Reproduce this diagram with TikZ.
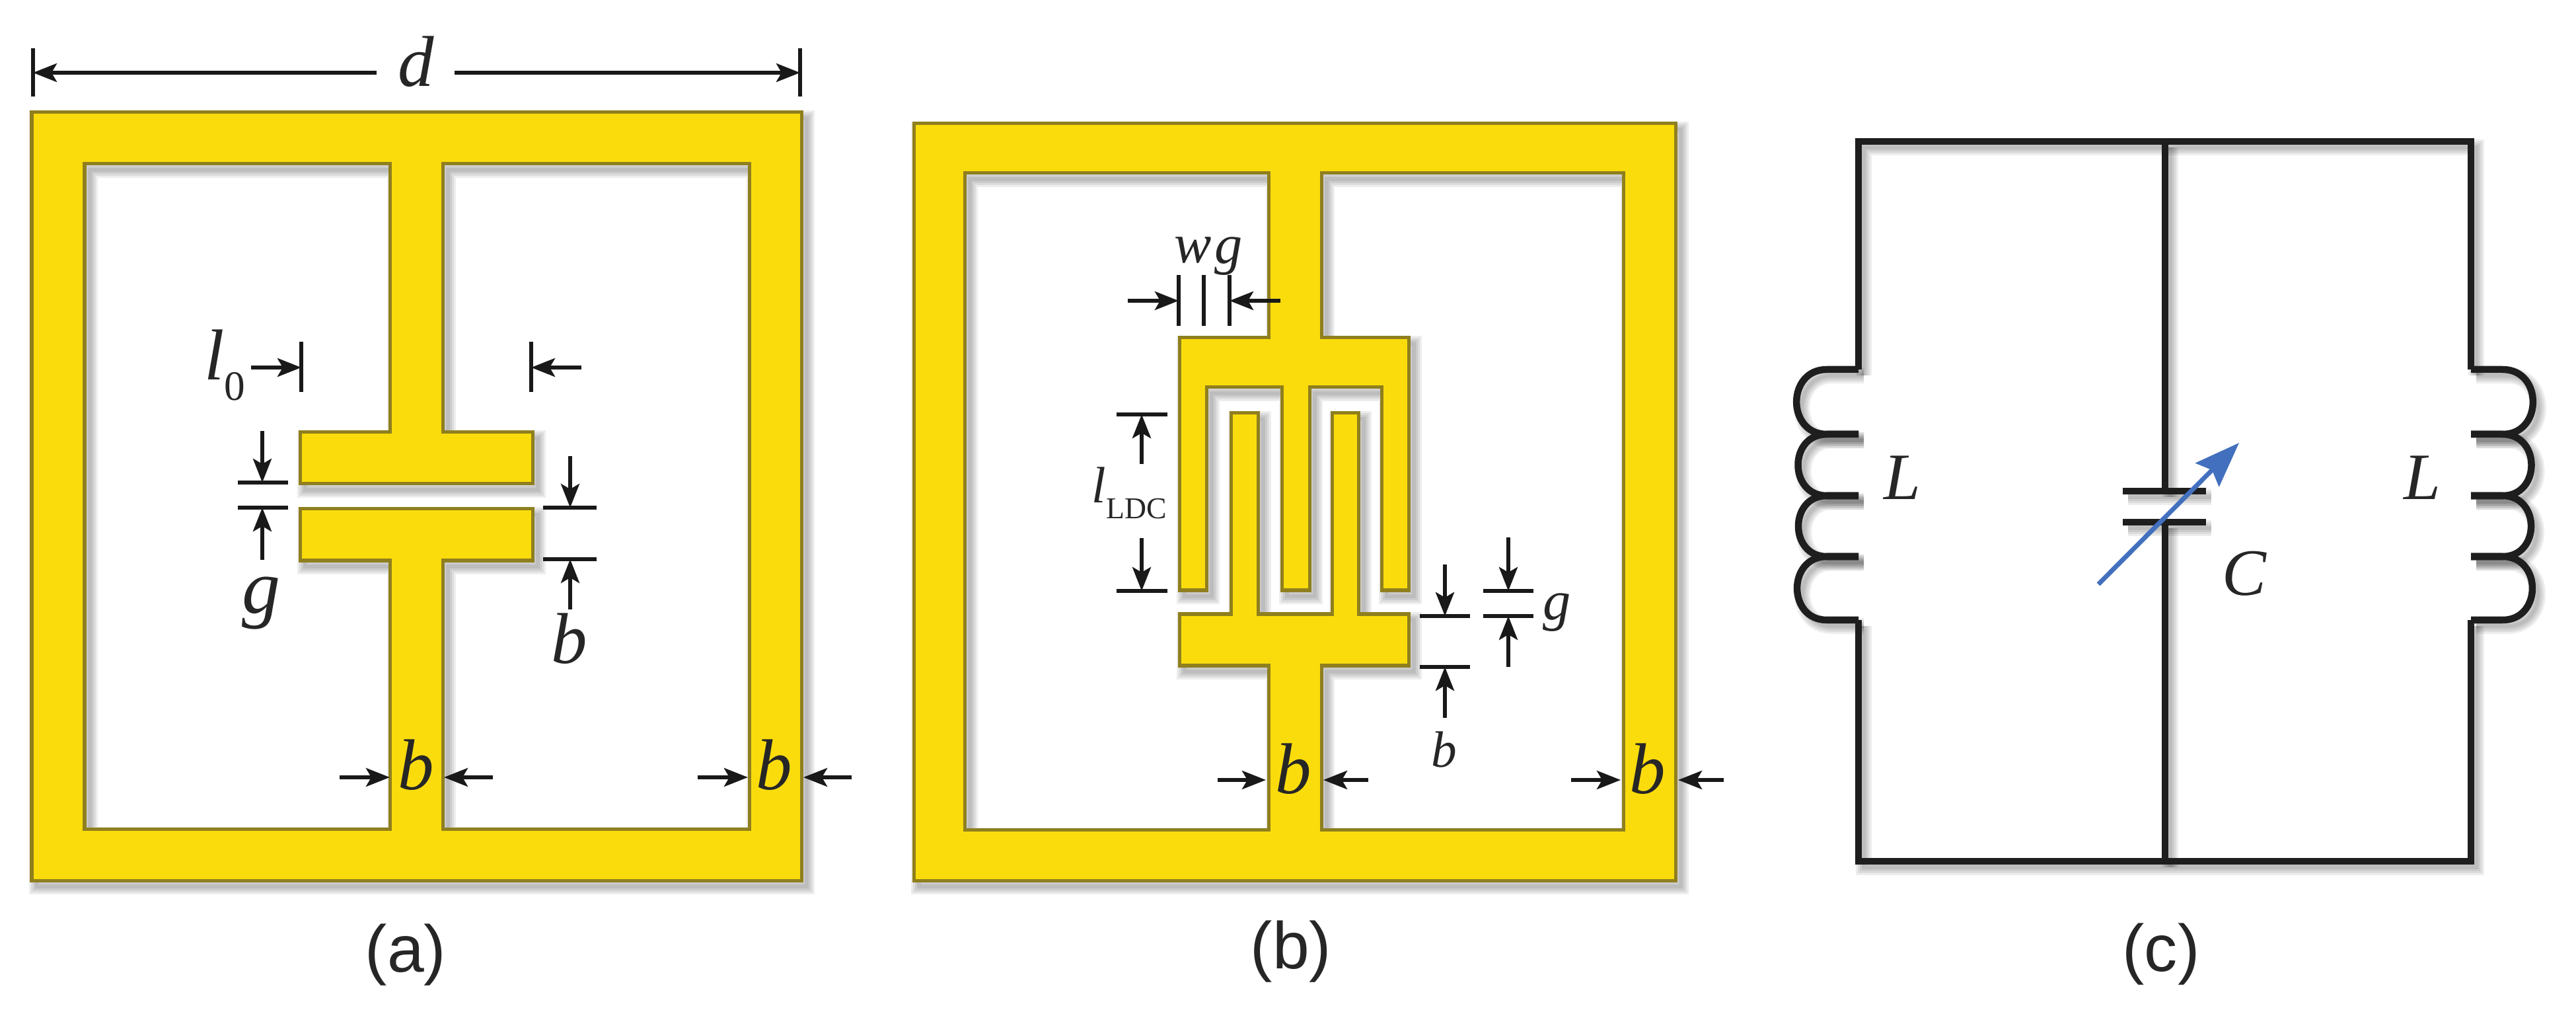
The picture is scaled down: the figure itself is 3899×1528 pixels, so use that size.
\documentclass[tikz,border=0pt]{standalone}
\usepackage{fontspec}
\setmainfont{Liberation Serif}
\newfontfamily\capfont{Liberation Sans}
\usetikzlibrary{arrows.meta}
\definecolor{gold}{HTML}{FADC0C}
\definecolor{goldedge}{HTML}{8F7F1E}
\definecolor{tunearrow}{HTML}{4270BE}
\definecolor{wirecol}{HTML}{1E1E1E}
\newcommand{\fs}[1]{\fontsize{#1}{#1}\selectfont}
\newcommand{\ringa}{(48,170) rectangle (1213,1332)
  (128,248) -- (590,248) -- (590,654) -- (454,654) -- (454,732) -- (806,732) -- (806,654) -- (670,654) -- (670,248)
  -- (1134,248) -- (1134,1254) -- (670,1254) -- (670,848) -- (806,848) -- (806,770) -- (454,770) -- (454,848)
  -- (590,848) -- (590,1254) -- (128,1254) -- cycle}
\newcommand{\ringb}{(1383,187) rectangle (2536,1332)
  (1460,262) -- (1920,262) -- (1920,511) -- (1785,511) -- (1785,893) -- (1826,893) -- (1826,586) -- (1940,586)
  -- (1940,893) -- (1982,893) -- (1982,586) -- (2091,586) -- (2091,893) -- (2132,893) -- (2132,511) -- (2000,511)
  -- (2000,262) -- (2457,262) -- (2457,1255) -- (2000,1255) -- (2000,1007) -- (2132,1007) -- (2132,929) -- (2056,929)
  -- (2056,625) -- (2016,625) -- (2016,929) -- (1904,929) -- (1904,625) -- (1863,625) -- (1863,929) -- (1785,929)
  -- (1785,1007) -- (1920,1007) -- (1920,1255) -- (1460,1255) -- cycle}
\newcommand{\circuit}[1]{
  \draw[#1] (lu) -- (tl) -- (tr) -- (ru);
  \draw[#1] (ld) -- (bl) -- (br) -- (rd);
  \draw[#1] (tm) -- (capa);
  \draw[#1] (capb) -- (bm);
  \draw[#1] (pal) -- (par);
  \draw[#1] (pbl) -- (pbr);
  \foreach \ya/\yb in {559/657,657/750,750/842,842/938}{
    \draw[#1] (2813,\ya) -- (2765,\ya) to[out=180,in=180,looseness=1.6] (2765,\yb) -- (2813,\yb);
    \draw[#1] (3740,\ya) -- (3788,\ya) to[out=0,in=0,looseness=1.6] (3788,\yb) -- (3740,\yb);
  }
}
\begin{document}
\begin{tikzpicture}[x=0.01cm,y=-0.01cm]
  \tikzstyle{every node}=[inner sep=0pt,anchor=base,text=black!85]
  \tikzstyle{ring}=[fill=gold,draw=goldedge,line width=0.05cm,even odd rule]
  \tikzstyle{shade}=[black,opacity=0.07,transform canvas={xshift=0.08cm,yshift=-0.09cm},line join=miter]
  \tikzstyle{wire}=[wirecol,line width=0.105cm,line join=miter]
  \tikzstyle{dimarrow}=[black!90,line width=0.055cm,-{Stealth[length=0.36cm,width=0.28cm,inset=0.08cm]}]
  \tikzstyle{dimtick}=[black!90,line width=0.065cm]
  \tikzstyle{bigtext}=[font=\itshape\fs{31}]
  \tikzstyle{smalltext}=[font=\itshape\fs{24}]
  \tikzstyle{captext}=[font=\capfont\fs{28.5}]
  \fill[white] (0,0) rectangle (3899,1528);
  \useasboundingbox (0,0) rectangle (3899,1528);

  \foreach \w in {0.24,0.18,0.12,0.06}{
    \draw[shade,line width=\w cm] \ringa;
    \draw[shade,line width=\w cm] \ringb;
  }
  \path[ring] \ringa;
  \path[ring] \ringb;

  \node[bigtext] (da) at (630,131) {d};
  \node[bigtext,anchor=base] (la) at (340,575) {l\raisebox{-0.3cm}{\upshape\fs{18}0}};
  \node[font=\itshape\fs{33}] (ga) at (396,928) {g};
  \node[bigtext] (ba) at (862,1003) {b};
  \node[bigtext] (bb) at (630,1194) {b};
  \node[bigtext] (bc) at (1172,1194) {b};
  \node[captext] (capa) at (614,1470) {(a)};

  \coordinate (dl) at (570,110);
  \coordinate (dr) at (688,110);
  \coordinate (dlt) at (50,110);
  \coordinate (drt) at (1211,110);
  \draw[dimarrow] (dl) -- (dlt);
  \draw[dimarrow] (dr) -- (drt);
  \foreach \xa/\ya/\xb/\yb in {380/556/456/556,880/556/804/556,397/652/397/730,397/847/397/768,
    863/690/863/768,863/922/863/846,514/1176/590/1176,746/1176/672/1176,1056/1176/1132/1176,1289/1176/1216/1176}{
    \draw[dimarrow] (\xa,\ya) -- (\xb,\yb);
  }
  \foreach \xa/\ya/\xb/\yb in {50/73/50/146,1211/73/1211/146,456/517/456/593,804/517/804/593,
    360/730/436/730,360/768/436/768,822/768/903/768,822/846/903/846}{
    \draw[dimtick] (\xa,\ya) -- (\xb,\yb);
  }

  \node[smalltext] (wb) at (1806,398) {w};
  \node[smalltext] (gb) at (1860,399) {g};
  \node[font=\itshape\fs{22},anchor=base west] (lb) at (1652,761) {l\raisebox{-0.23cm}{\upshape\fs{13}LDC}};
  \node[font=\itshape\fs{22}] (bd) at (2186,1160) {b};
  \node[smalltext] (ge) at (2357,937) {g};
  \node[bigtext] (be) at (1958,1200) {b};
  \node[bigtext] (bf) at (2494,1200) {b};
  \node[captext] (capb) at (1954,1465) {(b)};

  \foreach \xa/\ya/\xb/\yb in {1707/455/1784/455,1938/455/1861/455,1728/702/1728/627,1728/814/1728/894,
    2187/854/2187/932,2187/1086/2187/1009,2283/813/2283/894,2283/1009/2283/932,
    1843/1180/1916/1180,2071/1180/2003/1180,2378/1180/2453/1180,2609/1180/2540/1180}{
    \draw[dimarrow] (\xa,\ya) -- (\xb,\yb);
  }
  \foreach \xa/\ya/\xb/\yb in {1784/416/1784/493,1822/416/1822/493,1861/416/1861/493,1690/627/1767/627,1690/894/1767/894,
    2149/932/2225/932,2149/1009/2225/1009,2245/894/2321/894,2245/932/2321/932}{
    \draw[dimtick] (\xa,\ya) -- (\xb,\yb);
  }

  \coordinate (tl) at (2813,214);
  \coordinate (tm) at (3277,214);
  \coordinate (tr) at (3740,214);
  \coordinate (bl) at (2813,1303);
  \coordinate (bm) at (3277,1303);
  \coordinate (br) at (3740,1303);
  \coordinate (lu) at (2813,559);
  \coordinate (ld) at (2813,938);
  \coordinate (ru) at (3740,559);
  \coordinate (rd) at (3740,938);
  \coordinate (capa) at (3277,743);
  \coordinate (capb) at (3277,790);
  \coordinate (pal) at (3213,743);
  \coordinate (par) at (3339,743);
  \coordinate (pbl) at (3213,790);
  \coordinate (pbr) at (3339,790);
  \coordinate (tunea) at (3176,884);
  \coordinate (tuneb) at (3389,670);
  \foreach \w in {0.24,0.18,0.12,0.06}{
    \circuit{shade,line width=\w cm}
  }
  \circuit{wire}
  \draw[tunearrow,line width=0.07cm,-{Stealth[length=0.68cm,width=0.5cm,inset=0.1cm]}] (tunea) -- (tuneb);

  \node[font=\itshape\fs{28.5}] (ll) at (2879,756) {L};
  \node[font=\itshape\fs{28.5}] (lr) at (3666,756) {L};
  \node[font=\itshape\fs{28.5}] (cc) at (3397,901) {C};
  \node[captext] (capc) at (3271,1469) {(c)};
\end{tikzpicture}
\end{document}
